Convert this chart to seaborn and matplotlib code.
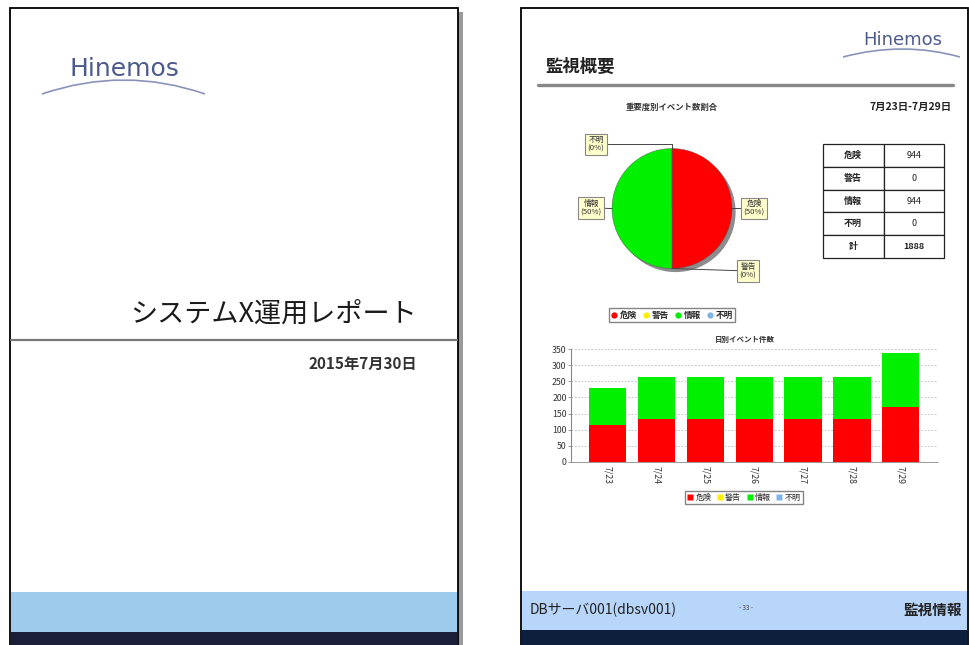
import numpy as np
import pandas as pd
import matplotlib.pyplot as plt
import seaborn as sns
from matplotlib.patches import Rectangle, Circle, PathPatch
from matplotlib.path import Path
from matplotlib.lines import Line2D

# レポート2ページ分（表紙と監視概要）
W, H = 970, 645

severity = ['危険', '警告', '情報', '不明']
severity_counts = [944, 0, 944, 0]
severity_colors = ['#ff0000', '#ffee00', '#00f000', '#80b4e8']

days = ['7/23', '7/24', '7/25', '7/26', '7/27', '7/28', '7/29']
daily_kiken = [114, 132, 132, 132, 132, 132, 170]
daily_keikoku = [0, 0, 0, 0, 0, 0, 0]
daily_jouhou = [114, 132, 132, 132, 132, 132, 170]
daily_fumei = [0, 0, 0, 0, 0, 0, 0]

sns.set_theme(style='white')
plt.rcParams['font.family'] = ['Noto Sans CJK JP', 'DejaVu Sans']
plt.rcParams['axes.unicode_minus'] = False


def box(l, t, w, h):
    # ピクセル座標(左上基準) -> figure 座標
    return [l / W, 1 - (t + h) / H, w / W, h / H]


fig = plt.figure(figsize=(W / 100, H / 100), dpi=100)
bg = fig.add_axes([0, 0, 1, 1])
bg.set_xlim(0, W)
bg.set_ylim(H, 0)
bg.axis('off')


def rect(x0, y0, x1, y1, **kw):
    bg.add_patch(Rectangle((x0, y0), x1 - x0, y1 - y0, **kw))


def logo(xc, yc, size, x0, x1, y_end, y_peak):
    bg.text(xc, yc, 'Hinemos', fontsize=size, color='#4d5a8c', ha='center', va='center',
            family='DejaVu Sans')
    verts = [(x0, y_end), (xc, 2 * y_peak - y_end), (x1, y_end)]
    bg.add_patch(PathPatch(Path(verts, [Path.MOVETO, Path.CURVE3, Path.CURVE3]),
                           fill=False, edgecolor='#6c78a8', lw=1.2, alpha=0.8))


# ---- 左ページ（表紙） ----
rect(14, 12, 463, 660, facecolor='#9a9a9a', edgecolor='none')
rect(10, 8, 458, 660, facecolor='white', edgecolor='black', lw=1.3)
rect(11, 592, 457, 632, facecolor='#9ecbeb', edgecolor='none')
rect(11, 632, 457, 660, facecolor='#1c1f3a', edgecolor='none')
bg.plot([11, 457], [340, 340], color='#777777', lw=1.6)
logo(124, 69, 18, 42, 205, 94, 80)
bg.text(417, 314, 'システムX運用レポート', fontsize=19.5, ha='right', va='center', color='#1a1a1a')
bg.text(417, 364, '2015年7月30日', fontsize=11, ha='right', va='center', color='#333333',
        fontweight='bold')

# ---- 右ページ（監視概要） ----
rect(521, 8, 968, 660, facecolor='white', edgecolor='black', lw=1.3)
rect(522, 591, 967, 630, facecolor='#b8d5fa', edgecolor='none')
rect(522, 630, 967, 660, facecolor='#0e1f3d', edgecolor='none')
bg.plot([538, 953], [84.5, 84.5], color='#888888', lw=2.4)
logo(903, 40, 13, 843, 960, 57, 49)
bg.text(545, 67, '監視概要', fontsize=12.5, ha='left', va='center', fontweight='bold', color='#222222')
bg.text(672, 107, '重要度別イベント数割合', fontsize=6, ha='center', va='center',
        fontweight='bold', color='#333333')
bg.text(952, 107, '7月23日-7月29日', fontsize=7.5, ha='right', va='center',
        fontweight='bold', color='#222222')
bg.text(745, 339, '日別イベント件数', fontsize=5.4, ha='center', va='center',
        fontweight='bold', color='#333333')
bg.text(530, 610, 'DBサーバ001(dbsv001)', fontsize=10, ha='left', va='center', color='#222222')
bg.text(746, 608, '- 33 -', fontsize=4.5, ha='center', va='center', color='#444444')
bg.text(962, 610, '監視情報', fontsize=10.5, ha='right', va='center', fontweight='bold',
        color='#222222')

# ---- 円グラフ ----
total = sum(severity_counts)
r_px = 60
ax_pie = fig.add_axes(box(672 - 100, 208.5 - 100, 200, 200))
ax_pie.add_patch(Circle((0.06, -0.06), 1.0, facecolor='#8c8c8c', edgecolor='none', zorder=0))
ax_pie.pie(severity_counts, colors=severity_colors, startangle=90, counterclock=False,
           wedgeprops=dict(edgecolor='#555555', linewidth=0.3))
lim = 100 / r_px
ax_pie.set_xlim(-lim, lim)
ax_pie.set_ylim(-lim, lim)
ax_pie.axis('off')

label_pos = {'危険': (1.367, 0.0), '警告': (1.267, -1.042),
             '情報': (-1.35, 0.008), '不明': (-1.267, 1.067)}
cum = 0
for name, v in zip(severity, severity_counts):
    theta = np.deg2rad(90 - 360 * (cum + v / 2) / total)
    cum += v
    edge = (np.cos(theta), np.sin(theta))
    tx, ty = label_pos[name]
    conn = 'angle,angleA=0,angleB=90' if name == '不明' else 'arc3'
    ax_pie.annotate(f'{name}\n({v / total:.0%})', xy=edge, xytext=(tx, ty),
                    fontsize=5.6, ha='center', va='center', color='#333333',
                    linespacing=1.1,
                    bbox=dict(boxstyle='square,pad=0.3', facecolor='#ffffcc',
                              edgecolor='#888888', lw=0.8),
                    arrowprops=dict(arrowstyle='-', color='#444444', lw=0.7,
                                    shrinkA=0, shrinkB=0, connectionstyle=conn),
                    annotation_clip=False)

pie_handles = [Line2D([], [], marker='o', ls='none', markersize=4.5, color=c,
                      markeredgecolor='none') for c in severity_colors]
fig.legend(pie_handles, severity, loc='center', bbox_to_anchor=(672 / W, 1 - 315.3 / H),
           ncol=4, prop=dict(weight='bold', size=6.2), frameon=True,
           fancybox=False, edgecolor='#666666', borderpad=0.3, handlelength=0.7,
           handletextpad=0.3, columnspacing=0.7)

# ---- 件数テーブル ----
ax_tab = fig.add_axes(box(822.7, 144.3, 121.6, 113.4))
ax_tab.axis('off')
cells = [[n, str(v)] for n, v in zip(severity, severity_counts)] + [['計', str(total)]]
tbl = ax_tab.table(cellText=cells, bbox=[0, 0, 1, 1], cellLoc='center')
tbl.auto_set_font_size(False)
tbl.set_fontsize(6.5)
for (r, c), cell in tbl.get_celld().items():
    cell.set_linewidth(0.9)
    cell.set_edgecolor('#222222')
    cell.get_text().set_color('#222222')
    if c == 0 or r == len(cells) - 1:
        cell.get_text().set_fontweight('bold')

# ---- 日別積み上げ棒グラフ ----
df = pd.DataFrame({'day': days, '危険': daily_kiken, '警告': daily_keikoku,
                   '情報': daily_jouhou, '不明': daily_fumei})
stack = df[severity].cumsum(axis=1)
ax_bar = fig.add_axes(box(570.7, 349.3, 367.3, 112.4))
ax_bar.set_facecolor('none')
for name, color in reversed(list(zip(severity, severity_colors))):
    sns.barplot(x=df['day'], y=stack[name], color=color, saturation=1, width=0.76,
                errorbar=None, linewidth=0, ax=ax_bar, zorder=3)
ax_bar.set_xlim(-0.75, 6.76)
ax_bar.set_ylim(0, 350)
ax_bar.set_yticks(range(0, 351, 50))
ax_bar.set_xlabel('')
ax_bar.set_ylabel('')
ax_bar.yaxis.grid(True, linestyle=(0, (2, 2)), color='#bbbbbb', lw=0.6, zorder=0)
ax_bar.set_axisbelow(True)
for s in ['top', 'right']:
    ax_bar.spines[s].set_visible(False)
ax_bar.spines['left'].set_color('#888888')
ax_bar.spines['left'].set_linewidth(0.8)
ax_bar.spines['bottom'].set_color('#999999')
ax_bar.spines['bottom'].set_linestyle((0, (2, 1)))
ax_bar.spines['bottom'].set_linewidth(0.7)
ax_bar.tick_params(axis='y', length=2, width=0.6, color='#888888', labelsize=6.3, pad=1,
                   labelcolor='#333333', left=True)
ax_bar.tick_params(axis='x', length=0, labelsize=6.3, pad=3, labelcolor='#333333',
                   labelrotation=-90)

bar_handles = [Line2D([], [], marker='s', ls='none', markersize=4.5, color=c,
                      markeredgecolor='none') for c in severity_colors]
fig.legend(bar_handles, severity, loc='center', bbox_to_anchor=(744 / W, 1 - 497.5 / H),
           ncol=4, prop=dict(size=5.8), frameon=True, fancybox=False, edgecolor='#666666',
           borderpad=0.3, handlelength=0.7, handletextpad=0.3, columnspacing=0.7)

fig.savefig('out.png', dpi=100)
